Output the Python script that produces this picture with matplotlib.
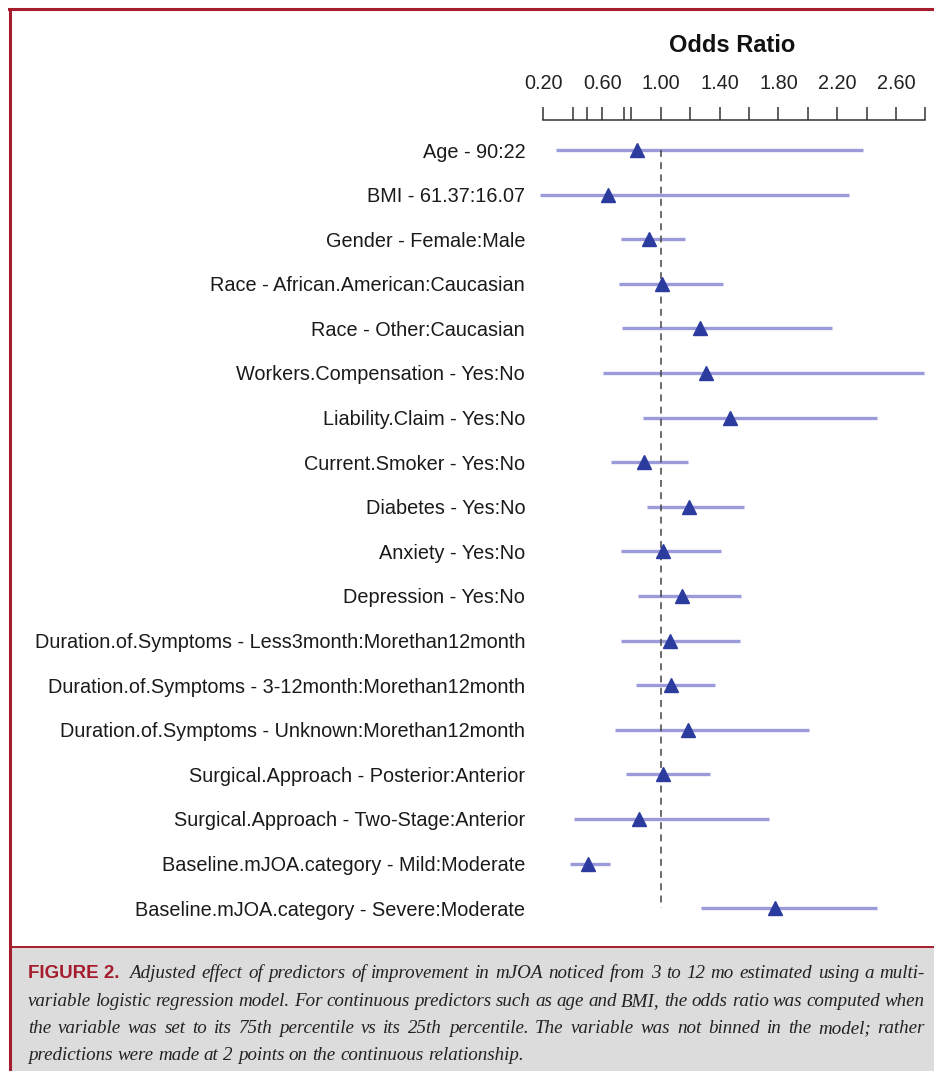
import matplotlib
matplotlib.use('Agg')
import matplotlib.pyplot as plt
from matplotlib.lines import Line2D
from matplotlib.patches import Rectangle

# predictors, odds ratio and lower/upper limits
labels = ['Age - 90:22',
          'BMI - 61.37:16.07',
          'Gender - Female:Male',
          'Race - African.American:Caucasian',
          'Race - Other:Caucasian',
          'Workers.Compensation - Yes:No',
          'Liability.Claim - Yes:No',
          'Current.Smoker - Yes:No',
          'Diabetes - Yes:No',
          'Anxiety - Yes:No',
          'Depression - Yes:No',
          'Duration.of.Symptoms - Less3month:Morethan12month',
          'Duration.of.Symptoms - 3-12month:Morethan12month',
          'Duration.of.Symptoms - Unknown:Morethan12month',
          'Surgical.Approach - Posterior:Anterior',
          'Surgical.Approach - Two-Stage:Anterior',
          'Baseline.mJOA.category - Mild:Moderate',
          'Baseline.mJOA.category - Severe:Moderate']
odds = [0.835, 0.642, 0.921, 1.009, 1.267, 1.306, 1.469, 0.887, 1.193,
        1.016, 1.143, 1.063, 1.068, 1.186, 1.012, 0.851, 0.502, 1.775]
lower = [0.286, 0.178, 0.726, 0.717, 0.737, 0.606, 0.876, 0.660, 0.905,
         0.726, 0.842, 0.730, 0.828, 0.689, 0.764, 0.411, 0.382, 1.272]
upper = [2.375, 2.278, 1.163, 1.420, 2.165, 2.790, 2.471, 1.188, 1.569,
         1.410, 1.544, 1.537, 1.369, 2.011, 1.333, 1.736, 0.656, 2.469]

major_ticks = [0.2, 0.6, 1.0, 1.4, 1.8, 2.2, 2.6]
minor_ticks = [0.4, 0.5, 0.75, 0.8, 1.2, 1.6, 2.0, 2.4, 2.8]

caption_head = 'FIGURE 2.'
caption_lines = [
    'Adjusted effect of predictors of improvement in mJOA noticed from 3 to 12 mo estimated using a multi-',
    'variable logistic regression model. For continuous predictors such as age and BMI, the odds ratio was computed when',
    'the variable was set to its 75th percentile vs its 25th percentile. The variable was not binned in the model; rather',
    'predictions were made at 2 points on the continuous relationship.']

W, H = 934, 1071
red = '#a51d2d'
line_col = '#9b9bdc'
tri_col = '#2c3c9e'

fig = plt.figure(figsize=(W / 100, H / 100), dpi=100)
fig.patch.set_facecolor('white')

def fx(px):
    return px / W

def fy(py):
    return 1 - py / H

# frame: red border, caption box
fig.add_artist(Rectangle((fx(10), 0), 1 - fx(10), fy(947), transform=fig.transFigure,
                         facecolor='#dcdcdc', edgecolor='none', zorder=0))
fig.add_artist(Line2D([fx(10), fx(10)], [0, fy(9)], transform=fig.transFigure, color=red, lw=2.2))
fig.add_artist(Line2D([fx(9), 1], [fy(9), fy(9)], transform=fig.transFigure, color=red, lw=2.2))
fig.add_artist(Line2D([fx(10), 1], [fy(947), fy(947)], transform=fig.transFigure, color=red, lw=1.4))

# forest plot
n = len(labels)
ax = fig.add_axes([fx(543.3), fy(930), fx(925.3) - fx(543.3), (930 - 120) / H])
ax.set_facecolor('none')
ax.set_xlim(0.2, 2.8)
ax.set_ylim(17.49, -0.673)

ax.hlines(range(n), lower, upper, color=line_col, lw=2.4, clip_on=False, zorder=2)
ax.vlines(1.0, 0, n - 1, color='#444444', lw=1.1, linestyles=(0, (4.5, 3.5)), zorder=3)
ax.plot(odds, range(n), '^', color=tri_col, markersize=9.5, clip_on=False, zorder=4)

for s in ['left', 'right', 'bottom']:
    ax.spines[s].set_visible(False)
ax.spines['top'].set_color('#333333')
ax.spines['top'].set_linewidth(1.1)

ax.xaxis.tick_top()
ax.set_xticks(major_ticks)
ax.set_xticklabels(['%.2f' % t for t in major_ticks])
ax.set_xticks(minor_ticks, minor=True)
ax.tick_params(axis='x', which='both', direction='out', length=9.5, width=1.1,
               color='#333333', pad=10, labelsize=14.3, labelcolor='#222222')

ax.set_yticks(range(n))
ax.set_yticklabels(labels)
ax.tick_params(axis='y', length=0, pad=13, labelsize=14.3, labelcolor='#1a1a1a')
for t in ax.get_yticklabels():
    t.set_fontfamily('Liberation Sans')
for t in ax.get_xticklabels():
    t.set_fontfamily('Liberation Sans')

fig.text(fx(732), fy(45), 'Odds Ratio', ha='center', va='center', fontsize=17,
         fontweight='bold', family='Liberation Sans', color='#111111')

# caption, justified like the journal layout
renderer = fig.canvas.get_renderer()
baselines = [978, 1006, 1033, 1060]
head = fig.text(fx(28), fy(baselines[0]), caption_head, ha='left', va='baseline', fontsize=13.5,
                fontweight='bold', family='Liberation Sans', color=red)
head_w = head.get_window_extent(renderer).width
left_edge, right_edge = 28, 925
cap_size = 13.7
for i, line in enumerate(caption_lines):
    x0 = left_edge + (head_w + 10 if i == 0 else 0)
    words = line.split(' ')
    arts = [fig.text(0, fy(baselines[i]), w, ha='left', va='baseline', fontsize=cap_size,
                     style='italic', family='Liberation Serif', color='#222222') for w in words]
    widths = [a.get_window_extent(renderer).width for a in arts]
    if i < len(caption_lines) - 1:
        gap = (right_edge - x0 - sum(widths)) / (len(words) - 1)
    else:
        gap = cap_size * 100 / 72 * 0.25
    x = x0
    for a, w in zip(arts, widths):
        a.set_x(fx(x))
        x += w + gap

fig.savefig('out.png', dpi=100, facecolor=fig.get_facecolor())
